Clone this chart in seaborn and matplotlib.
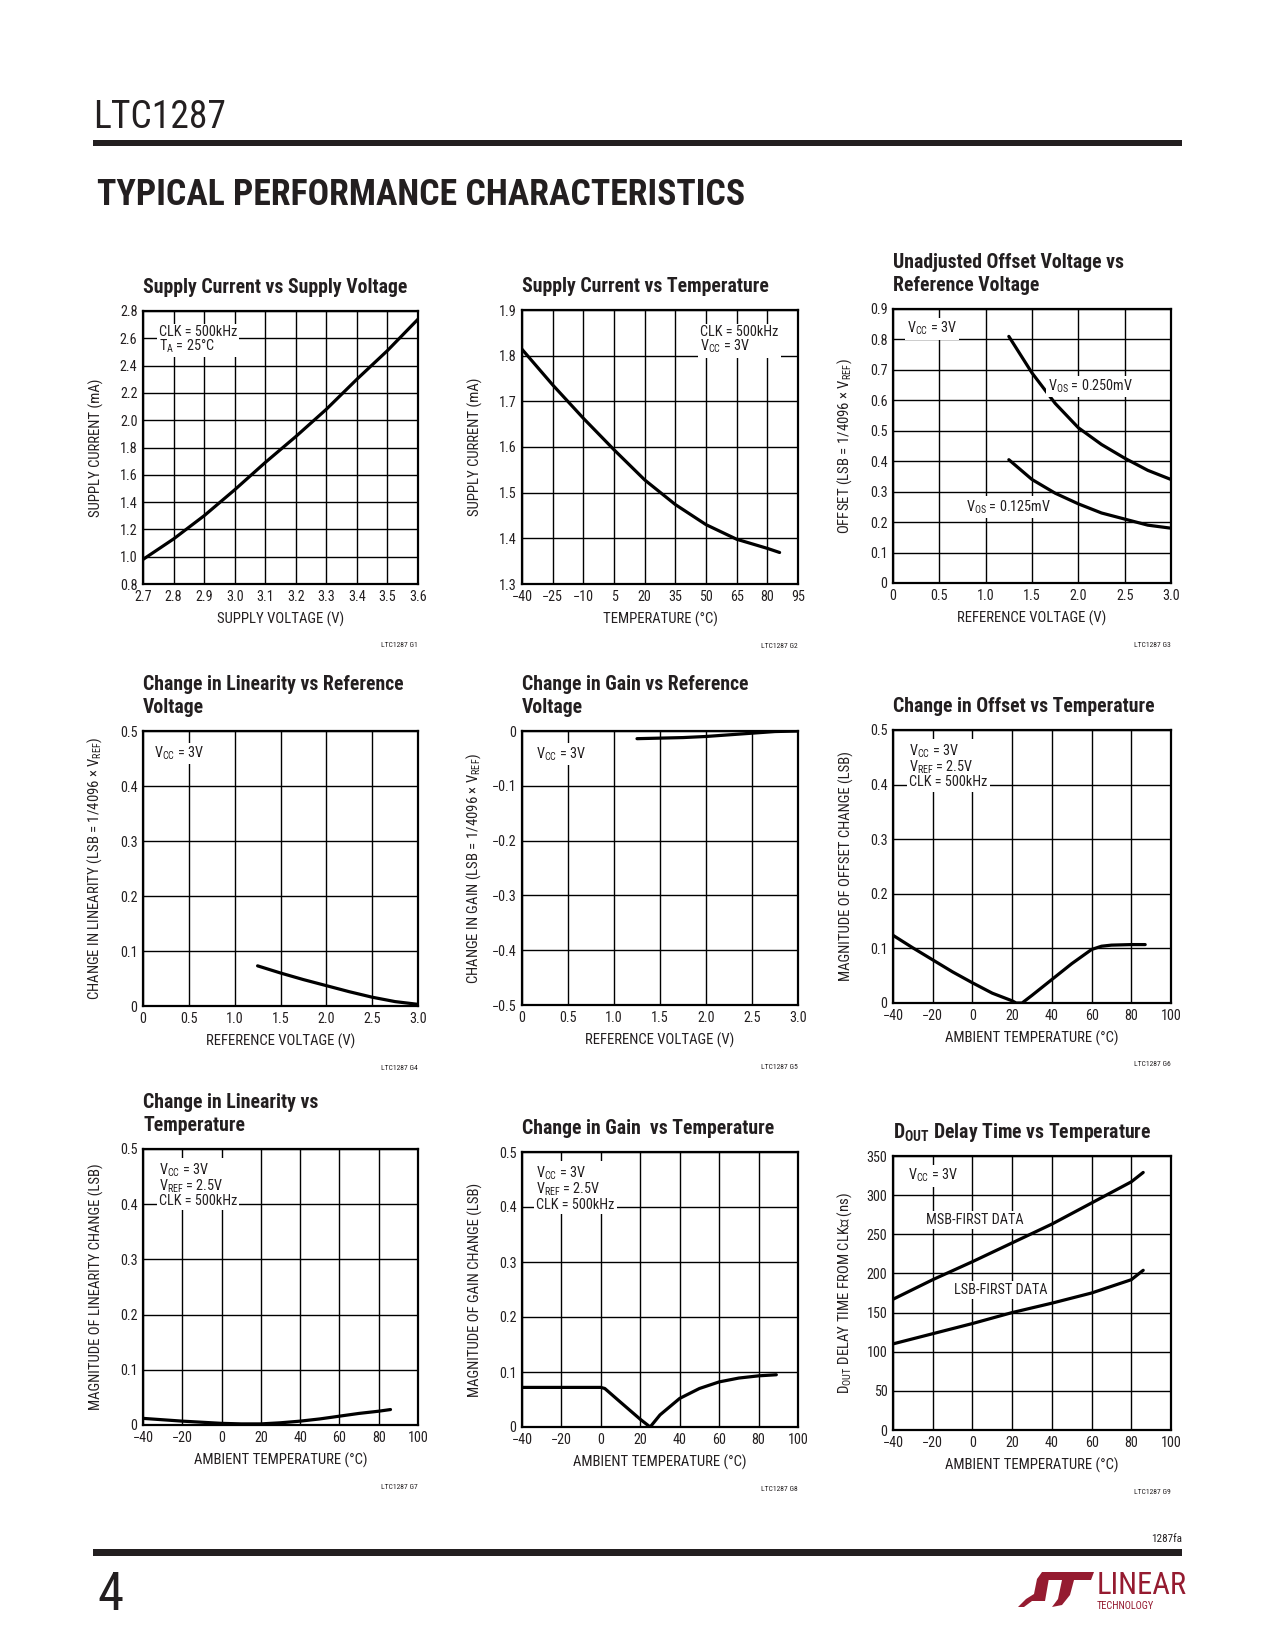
import matplotlib
matplotlib.use('Agg')
import matplotlib.pyplot as plt
from matplotlib import font_manager
from matplotlib.ticker import FixedLocator, FuncFormatter
from matplotlib.patches import Rectangle, Polygon
import seaborn as sns

# ---- values ----
# G1: supply current vs supply voltage
g1_volts = [2.7, 2.8, 2.9, 3.0, 3.1, 3.2, 3.3, 3.4, 3.5, 3.6]
g1_current = [0.98, 1.13, 1.30, 1.49, 1.69, 1.88, 2.08, 2.30, 2.51, 2.74]

# G2: supply current vs temperature
g2_temp = [-40, -25, -10, 5, 20, 35, 50, 65, 80, 86]
g2_current = [1.814, 1.736, 1.663, 1.594, 1.528, 1.474, 1.430, 1.398, 1.378, 1.369]

# G3: unadjusted offset vs reference voltage
g3_vref = [1.25, 1.5, 1.75, 2.0, 2.25, 2.5, 2.75, 3.0]
g3_os_250 = [0.81, 0.69, 0.59, 0.51, 0.455, 0.41, 0.37, 0.34]
g3_os_125 = [0.405, 0.34, 0.295, 0.26, 0.23, 0.21, 0.19, 0.18]

# G4: change in linearity vs reference voltage
g4_vref = [1.25, 1.5, 1.75, 2.0, 2.25, 2.5, 2.75, 3.0]
g4_lin = [0.073, 0.060, 0.048, 0.037, 0.026, 0.016, 0.008, 0.003]

# G5: change in gain vs reference voltage
g5_vref = [1.25, 1.5, 1.75, 2.0, 2.25, 2.5, 2.75, 3.0]
g5_gain = [-0.014, -0.013, -0.012, -0.010, -0.007, -0.004, -0.001, 0.0]

# G6: change in offset vs temperature
g6_temp = [-40, -30, -20, -10, 0, 10, 20, 22, 25, 30, 40, 50, 60, 65, 70, 80, 87]
g6_offset = [0.124, 0.101, 0.079, 0.057, 0.037, 0.018, 0.004, 0.0, 0.0, 0.014,
             0.043, 0.072, 0.098, 0.104, 0.106, 0.107, 0.107]

# G7: change in linearity vs temperature
g7_temp = [-40, -30, -20, -10, 0, 10, 20, 30, 40, 50, 60, 70, 80, 86]
g7_lin = [0.012, 0.0095, 0.007, 0.005, 0.003, 0.002, 0.002, 0.004, 0.007, 0.011,
          0.016, 0.021, 0.025, 0.028]

# G8: change in gain vs temperature
g8_temp = [-40, -20, 0, 2, 10, 20, 25, 30, 40, 50, 60, 70, 80, 89]
g8_gain = [0.072, 0.072, 0.072, 0.070, 0.045, 0.014, 0.0, 0.022, 0.052, 0.070,
           0.082, 0.089, 0.093, 0.095]

# G9: DOUT delay time vs temperature
g9_temp = [-40, -20, 0, 20, 40, 60, 80, 86]
g9_msb = [167, 192, 215, 239, 263, 290, 317, 329]
g9_lsb = [110, 123, 136, 150, 162, 175, 192, 204]

# tick positions
ticks_supply_v = [2.7, 2.8, 2.9, 3.0, 3.1, 3.2, 3.3, 3.4, 3.5, 3.6]
ticks_supply_ma = [0.8, 1.0, 1.2, 1.4, 1.6, 1.8, 2.0, 2.2, 2.4, 2.6, 2.8]
ticks_temp15 = [-40, -25, -10, 5, 20, 35, 50, 65, 80, 95]
ticks_ma_t = [1.3, 1.4, 1.5, 1.6, 1.7, 1.8, 1.9]
ticks_vref = [0, 0.5, 1.0, 1.5, 2.0, 2.5, 3.0]
ticks_offset = [0, 0.1, 0.2, 0.3, 0.4, 0.5, 0.6, 0.7, 0.8, 0.9]
ticks_lsb = [0, 0.1, 0.2, 0.3, 0.4, 0.5]
ticks_gain = [-0.5, -0.4, -0.3, -0.2, -0.1, 0]
ticks_temp20 = [-40, -20, 0, 20, 40, 60, 80, 100]
ticks_ns = [0, 50, 100, 150, 200, 250, 300, 350]

INK = '#231f20'
LOGO_RED = '#951b30'

sns.set_theme(style='white')

# pick a narrow face if one is installed
names = {f.name for f in font_manager.fontManager.ttflist}
narrow = next((n for n in ['Liberation Sans Narrow', 'Roboto Condensed', 'Open Sans Condensed']
               if n in names), 'Roboto' if 'Roboto' in names else 'DejaVu Sans')
plt.rcParams['font.family'] = [narrow, 'DejaVu Sans']
plt.rcParams['mathtext.fontset'] = 'custom'
plt.rcParams['mathtext.rm'] = narrow
plt.rcParams['mathtext.default'] = 'regular'
plt.rcParams['text.color'] = INK
plt.rcParams['axes.labelcolor'] = INK
plt.rcParams['xtick.color'] = INK
plt.rcParams['ytick.color'] = INK

W, H = 1275, 1650
fig = plt.figure(figsize=(W / 100, H / 100), dpi=100)
fig.patch.set_facecolor('white')


def px_axes(left, top, w, h):
    return fig.add_axes([left / W, 1 - (top + h) / H, w / W, h / H])


def tick_fmt(dec):
    def f(v, pos):
        if abs(v) < 1e-9:
            return '0'
        return f'{v:.{dec}f}'.replace('-', '\u2212')
    return FuncFormatter(f)


def style_panel(ax, xt, yt, xdec, ydec, xlabel, ylabel, title, tag):
    ax.set_xlim(xt[0], xt[-1])
    ax.set_ylim(yt[0], yt[-1])
    ax.xaxis.set_major_locator(FixedLocator(xt))
    ax.yaxis.set_major_locator(FixedLocator(yt))
    ax.xaxis.set_major_formatter(tick_fmt(xdec))
    ax.yaxis.set_major_formatter(tick_fmt(ydec))
    ax.tick_params(length=0, labelsize=10.2, pad=4)
    ax.set_axisbelow(True)
    ax.grid(True, color='black', linewidth=1.0)
    for s in ax.spines.values():
        s.set_color('black')
        s.set_linewidth(1.6)
    ax.set_xlabel(xlabel, fontsize=10.6)
    ax.set_ylabel(ylabel, fontsize=10.6)
    ax.xaxis.set_label_coords(0.5, -0.1)
    ax.yaxis.set_label_coords(-0.14, 0.5)
    ax.set_title(title, loc='left', pad=13, fontsize=14.2, fontweight='bold',
                 color=INK, linespacing=1.25)
    ax.text(1.0, -0.225, tag, transform=ax.transAxes, ha='right', va='center',
            fontsize=5.5, color=INK)


def note(ax, x, y, s, coords='axes'):
    tr = ax.transAxes if coords == 'axes' else ax.transData
    va = 'top' if coords == 'axes' else 'center'
    ax.text(x, y, s, transform=tr, ha='left', va=va, fontsize=10.3, linespacing=0.92,
            zorder=5, bbox=dict(boxstyle='square,pad=0.15', fc='white', ec='none'))


def curve(ax, x, y):
    sns.lineplot(x=x, y=y, ax=ax, color='black', linewidth=2.3, sort=True)


# ---- row 1 ----
ax = px_axes(143, 311, 275, 273)
curve(ax, g1_volts, g1_current)
style_panel(ax, ticks_supply_v, ticks_supply_ma, 1, 1, 'SUPPLY VOLTAGE (V)',
            'SUPPLY CURRENT (mA)', 'Supply Current vs Supply Voltage', 'LTC1287 G1')
note(ax, 0.057, 0.95, 'CLK = 500kHz\nT$_{A}$ = 25°C')

ax = px_axes(522, 310, 276, 274)
curve(ax, g2_temp, g2_current)
style_panel(ax, ticks_temp15, ticks_ma_t, 0, 1, 'TEMPERATURE (°C)',
            'SUPPLY CURRENT (mA)', 'Supply Current vs Temperature', 'LTC1287 G2')
note(ax, 0.645, 0.945, 'CLK = 500kHz\nV$_{CC}$ = 3V')

ax = px_axes(893, 309, 278, 274)
curve(ax, g3_vref, g3_os_250)
curve(ax, g3_vref, g3_os_125)
style_panel(ax, ticks_vref, ticks_offset, 1, 1, 'REFERENCE VOLTAGE (V)',
            'OFFSET (LSB = 1/4096 × V$_{REF}$)',
            'Unadjusted Offset Voltage vs\nReference Voltage', 'LTC1287 G3')
note(ax, 0.05, 0.96, 'V$_{CC}$ = 3V')
note(ax, 1.67, 0.645, 'V$_{OS}$ = 0.250mV', coords='data')
note(ax, 0.79, 0.25, 'V$_{OS}$ = 0.125mV', coords='data')

# ---- row 2 ----
ax = px_axes(143, 731, 275, 275)
curve(ax, g4_vref, g4_lin)
style_panel(ax, ticks_vref, ticks_lsb, 1, 1, 'REFERENCE VOLTAGE (V)',
            'CHANGE IN LINEARITY (LSB = 1/4096 × V$_{REF}$)',
            'Change in Linearity vs Reference\nVoltage', 'LTC1287 G4')
note(ax, 0.041, 0.95, 'V$_{CC}$ = 3V')

ax = px_axes(522, 731, 276, 274)
curve(ax, g5_vref, g5_gain)
style_panel(ax, ticks_vref, ticks_gain, 1, 1, 'REFERENCE VOLTAGE (V)',
            'CHANGE IN GAIN (LSB = 1/4096 × V$_{REF}$)',
            'Change in Gain vs Reference\nVoltage', 'LTC1287 G5')
note(ax, 0.052, 0.948, 'V$_{CC}$ = 3V')

ax = px_axes(893, 730, 278, 273)
curve(ax, g6_temp, g6_offset)
style_panel(ax, ticks_temp20, ticks_lsb, 0, 1, 'AMBIENT TEMPERATURE (°C)',
            'MAGNITUDE OF OFFSET CHANGE (LSB)',
            'Change in Offset vs Temperature', 'LTC1287 G6')
note(ax, 0.058, 0.954, 'V$_{CC}$ = 3V\nV$_{REF}$ = 2.5V\nCLK = 500kHz')

# ---- row 3 ----
ax = px_axes(143, 1149, 275, 276)
curve(ax, g7_temp, g7_lin)
style_panel(ax, ticks_temp20, ticks_lsb, 0, 1, 'AMBIENT TEMPERATURE (°C)',
            'MAGNITUDE OF LINEARITY CHANGE (LSB)',
            'Change in Linearity vs\nTemperature', 'LTC1287 G7')
note(ax, 0.057, 0.955, 'V$_{CC}$ = 3V\nV$_{REF}$ = 2.5V\nCLK = 500kHz')

ax = px_axes(522, 1152, 276, 275)
curve(ax, g8_temp, g8_gain)
style_panel(ax, ticks_temp20, ticks_lsb, 0, 1, 'AMBIENT TEMPERATURE (°C)',
            'MAGNITUDE OF GAIN CHANGE (LSB)',
            'Change in Gain  vs Temperature', 'LTC1287 G8')
note(ax, 0.052, 0.954, 'V$_{CC}$ = 3V\nV$_{REF}$ = 2.5V\nCLK = 500kHz')

ax = px_axes(893, 1156, 278, 274)
curve(ax, g9_temp, g9_msb)
curve(ax, g9_temp, g9_lsb)
style_panel(ax, ticks_temp20, ticks_ns, 0, 0, 'AMBIENT TEMPERATURE (°C)',
            'D$_{OUT}$ DELAY TIME FROM CLK\u2193 (ns)',
            'D$_{OUT}$ Delay Time vs Temperature', 'LTC1287 G9')
note(ax, 0.053, 0.96, 'V$_{CC}$ = 3V')
note(ax, -23.4, 268, 'MSB-FIRST DATA', coords='data')
note(ax, -9.3, 179, 'LSB-FIRST DATA', coords='data')

# ---- page furniture ----
fig.text(93 / W, 1 - 118 / H, 'LTC1287', fontsize=27, ha='left', va='center', color=INK)
fig.add_artist(Rectangle((93 / W, 1 - 146 / H), (1182 - 93) / W, 6 / H,
                         transform=fig.transFigure, color=INK, lw=0))
head = fig.text(97 / W, 1 - 195 / H, 'TYPICAL PERFORMANCE CHARACTERISTICS', fontsize=26,
                fontweight='heavy', ha='left', va='center', color=INK)
# squeeze the heading to the width it has on the page
fig.canvas.draw()
wpx = head.get_window_extent().width
head.set_fontsize(26 * min(1.0, 649 / wpx))

fig.add_artist(Rectangle((93 / W, 1 - 1556 / H), (1182 - 93) / W, 7 / H,
                         transform=fig.transFigure, color=INK, lw=0))
fig.text(1182 / W, 1 - 1539 / H, '1287fa', fontsize=8, ha='right', va='center', color=INK)
fig.text(97 / W, 1 - 1596 / H, '4', fontsize=38, ha='left', va='center', color=INK)

# Linear Technology logo
lax = fig.add_axes([1018 / W, 1 - 1607 / H, 77 / W, 35 / H])
lax.set_xlim(0, 77)
lax.set_ylim(0, 35)
lax.axis('off')
lax.add_patch(Polygon([(0, 0), (6, 0), (14, 6), (27, 6), (31, 29), (34, 35), (24, 35),
                       (19, 28), (16, 13), (8, 8)], closed=True, color=LOGO_RED, lw=0))
lax.add_patch(Polygon([(26, 35), (76, 35), (73, 27), (56, 27), (52, 12), (44, 2), (34, 0),
                       (40, 8), (44, 27), (29, 27)], closed=True, color=LOGO_RED, lw=0))
fig.text(1097 / W, 1 - 1586 / H, 'LINEAR', fontsize=22, ha='left', va='center',
         color=LOGO_RED)
fig.text(1097 / W, 1 - 1606 / H, 'TECHNOLOGY', fontsize=7.4, ha='left', va='center',
         color=LOGO_RED)

fig.savefig('out.png', dpi=100, facecolor='white')
